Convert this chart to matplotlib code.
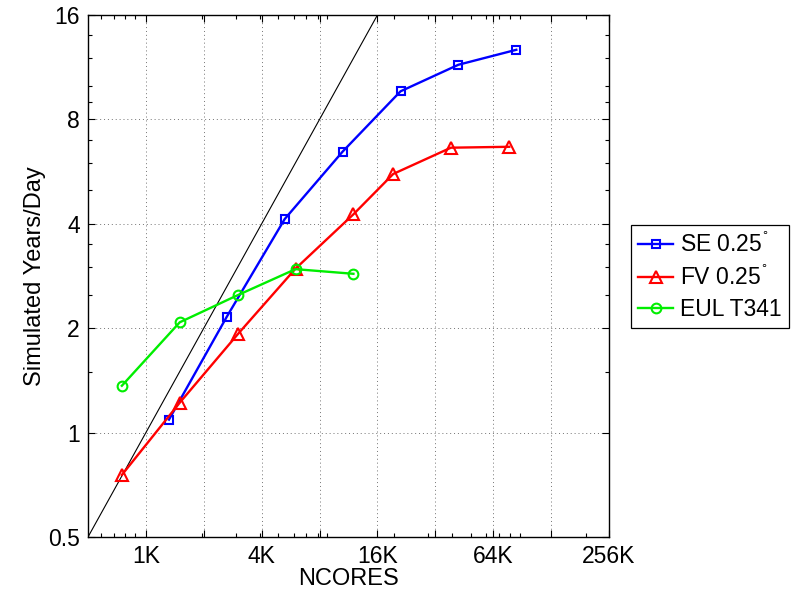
"""
Throughput scaling: simulated years per day versus core count.
"""

import numpy as np
import matplotlib
matplotlib.use("Agg")
import matplotlib.pyplot as plt
from matplotlib.ticker import FixedLocator, NullFormatter

plt.rcParams['font.family'] = ['Liberation Sans', 'DejaVu Sans']
plt.rcParams['mathtext.fontset'] = 'dejavusans'

### Data ###
ncores_se = [1350, 2700, 5400, 10800, 21600, 43200, 86400]
sypd_se = [1.09, 2.16, 4.13, 6.46, 9.64, 11.5, 12.7]

ncores_fv = [768, 1536, 3072, 6144, 12288, 19800, 39500, 79400]
sypd_fv = [0.755, 1.22, 1.92, 2.97, 4.26, 5.57, 6.63, 6.67]

ncores_eul = [768, 1536, 3072, 6144, 12288]
sypd_eul = [1.365, 2.08, 2.49, 2.96, 2.87]

# perfect scaling reference, 1 SYPD per 1024 cores
ideal_n = [512, 262144]
ideal_sypd = [0.5, 256]

labels = ['SE 0.25$^{^{\\circ}}$', 'FV 0.25$^{^{\\circ}}$', 'EUL T341']

xtick_vals = [1024 * 2**k for k in range(9)]
xtick_labels = ['1K', '', '4K', '', '16K', '', '64K', '', '256K']
ytick_vals = [0.5, 1, 2, 4, 8, 16]
ytick_labels = ['0.5', '1', '2', '4', '8', '16']
yminor_vals = [1.5, 2.5, 3, 3.5, 5, 6, 7, 9, 10, 12, 14]

### Figure ###
fig = plt.figure(figsize=(7.96, 5.89), dpi=100)
ax = fig.add_axes([88/796, 52/589, 521/796, 522/589])

ax.plot(ideal_n, ideal_sypd, c='k', lw=0.8)
ax.plot(ncores_se, sypd_se, c='#0000ff', lw=1.7, marker='s', ms=6,
        mfc='none', mew=1.5, label=labels[0])
ax.plot(ncores_fv, sypd_fv, c='#ff0000', lw=1.7, marker='^', ms=8,
        mfc='none', mew=1.5, label=labels[1])
ax.plot(ncores_eul, sypd_eul, c='#00ee00', lw=1.7, marker='o', ms=7,
        mfc='none', mew=1.5, label=labels[2])

ax.set_xscale('log', base=2)
ax.set_yscale('log', base=2)
ax.set_xlim(512, 262144)
ax.set_ylim(0.5, 16)

ax.xaxis.set_major_locator(FixedLocator(xtick_vals))
ax.set_xticklabels(xtick_labels)
xminor = [s * 10**p for p in range(2, 6) for s in range(2, 10)]
xminor = [v for v in xminor if 512 < v < 262144]
ax.xaxis.set_minor_locator(FixedLocator(xminor))
ax.xaxis.set_minor_formatter(NullFormatter())

ax.yaxis.set_major_locator(FixedLocator(ytick_vals))
ax.set_yticklabels(ytick_labels)
ax.yaxis.set_minor_locator(FixedLocator(yminor_vals))
ax.yaxis.set_minor_formatter(NullFormatter())

ax.tick_params(which='both', direction='in', top=True, right=True,
               labelsize=16.5, width=0.8)
ax.tick_params(which='major', length=5, pad=6)
ax.tick_params(which='minor', length=3)
for sp in ax.spines.values():
    sp.set_linewidth(1.0)

ax.grid(True, which='major', ls=(0, (1, 3)), c='0.45', lw=0.7)

ax.set_xlabel('NCORES', fontsize=17, labelpad=0)
ax.set_ylabel('Simulated Years/Day', fontsize=17, labelpad=1)

leg = ax.legend(loc='center left', bbox_to_anchor=(631/796, (589 - 276.5)/589),
                bbox_transform=fig.transFigure, fontsize=16.5, frameon=True,
                fancybox=False, edgecolor='k', framealpha=1, borderaxespad=0,
                handlelength=1.55, handletextpad=0.3, labelspacing=0.35,
                borderpad=0.3)
leg.get_frame().set_linewidth(0.9)

plt.savefig('out.png', dpi=100)
